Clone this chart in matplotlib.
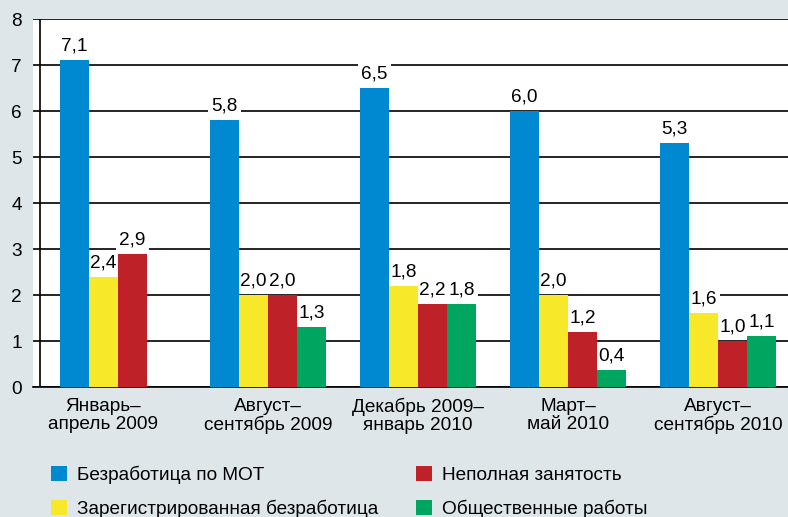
import numpy as np
import matplotlib
matplotlib.use('Agg')
import matplotlib.pyplot as plt

plt.rcParams['font.family'] = ['Liberation Sans', 'DejaVu Sans']

# Данные
periods = ['Январь–\nапрель 2009', 'Август–\nсентябрь 2009', 'Декабрь 2009–\nянварь 2010',
           'Март–\nмай 2010', 'Август–\nсентябрь 2010']
series_names = ['Безработица по МОТ', 'Зарегистрированная безработица',
                'Неполная занятость', 'Общественные работы']
mot = [7.1, 5.8, 6.5, 6.0, 5.3]
registered = [2.4, 2.0, 2.2, 2.0, 1.6]
underemployed = [2.9, 2.0, 1.8, 1.2, 1.0]
public_works = [np.nan, 1.3, 1.8, 0.37, 1.1]
# подписи как в оригинале
mot_lbl = ['7,1', '5,8', '6,5', '6,0', '5,3']
registered_lbl = ['2,4', '2,0', '1,8', '2,0', '1,6']
underemployed_lbl = ['2,9', '2,0', '2,2', '1,2', '1,0']
public_works_lbl = ['', '1,3', '1,8', '0,4', '1,1']
yticks = [0, 1, 2, 3, 4, 5, 6, 7, 8]

colors = ['#0088d0', '#f7e92a', '#be2127', '#00a55f']
bg = '#dfe6e9'
fs = 13.7

fig = plt.figure(figsize=(7.88, 5.17), dpi=100)
fig.patch.set_facecolor(bg)
ax = fig.add_axes([33/788, 130/517, 755/788, 368/517])
ax.set_facecolor('white')

w = 29/150
x = np.arange(len(periods))
vals = [mot, registered, underemployed, public_works]
lbls = [mot_lbl, registered_lbl, underemployed_lbl, public_works_lbl]
handles = []
for j in range(4):
    b = ax.bar(x + j*w, vals[j], width=w, align='edge', color=colors[j],
               label=series_names[j], zorder=3)
    handles.append(b)
    for i in range(len(x)):
        if lbls[j][i] == '':
            continue
        # подписи под столбцами по z, чтобы фон не закрывал соседей
        ax.annotate(lbls[j][i], (x[i] + j*w + w/2, vals[j][i]), xytext=(0, 4),
                    textcoords='offset points', ha='center', va='bottom',
                    fontsize=fs, zorder=2.5,
                    bbox=dict(boxstyle='square,pad=0.15', fc='white', ec='none'))

ax.set_xlim(-27/150, 728/150)
ax.set_ylim(0, 8)
ax.set_yticks(yticks)
ax.yaxis.grid(True, color='black', linewidth=1.2, zorder=1)
ax.set_axisbelow(True)
ax.tick_params(axis='y', length=0, pad=8, labelsize=fs)
ax.axvline(-20/150, color='black', linewidth=1.2, zorder=2)
for s in ['left', 'right', 'top']:
    ax.spines[s].set_visible(False)
ax.spines['bottom'].set_linewidth(1.2)

# центры групп по имеющимся столбцам
centers = []
for i in range(len(x)):
    n = sum(1 for v in vals if not np.isnan(v[i]))
    centers.append(x[i] + n*w/2)
ax.set_xticks(centers)
ax.set_xticklabels(periods, fontsize=fs, linespacing=1.05)
ax.tick_params(axis='x', length=0, pad=8)

fig.legend(handles=handles, labels=series_names, ncol=2, frameon=False,
           loc='upper left', bbox_to_anchor=(51/788, 1 - 466/517),
           fontsize=fs, handlelength=0.85, handleheight=0.85,
           handletextpad=0.5, columnspacing=2.0, labelspacing=0.8,
           borderpad=0, borderaxespad=0)

fig.savefig('out.png', dpi=100, facecolor=bg)
